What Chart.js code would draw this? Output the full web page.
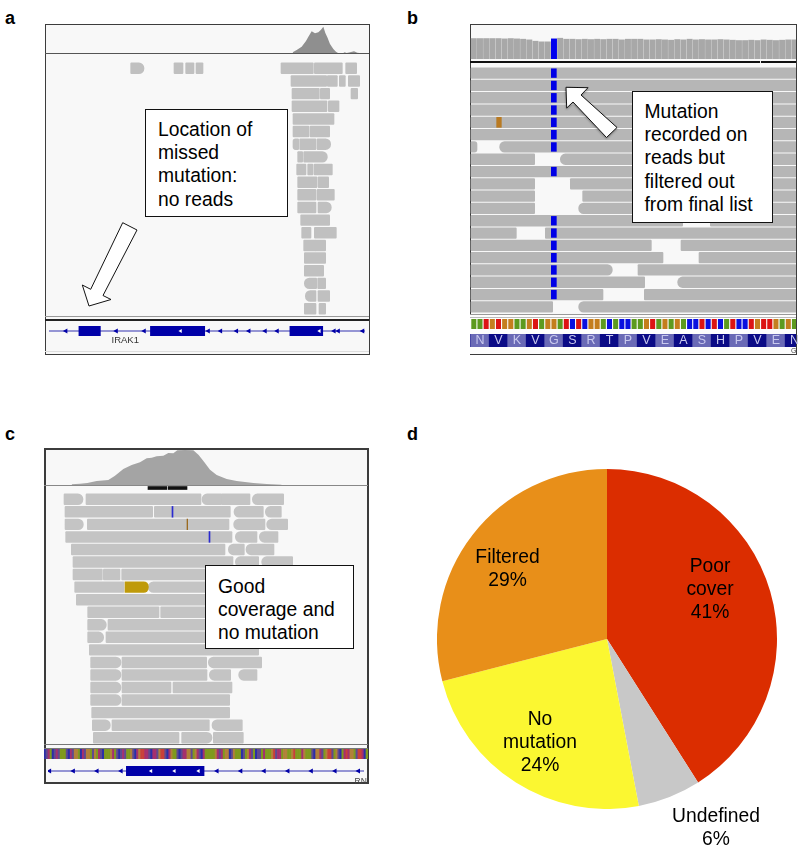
<!DOCTYPE html>
<html><head><meta charset="utf-8">
<script src="https://cdn.jsdelivr.net/npm/chart.js@4"></script>
<style>
html,body{margin:0;padding:0;background:#fff}
#page{position:relative;width:800px;height:850px;overflow:hidden;font-family:"Liberation Sans",Arial,sans-serif;color:#000}
canvas{position:absolute;display:block}
.frame{position:absolute;box-sizing:border-box;border:1.5px solid #3c3c3c;background:#f8f8f8;overflow:hidden}
.rule{position:absolute}
.box{position:absolute;box-sizing:border-box;background:#fff;border:1.2px solid #111;font-size:19.3px;line-height:23.2px;z-index:5;white-space:pre}
.lab{position:absolute;font-size:19.3px;line-height:23px;text-align:center;white-space:pre;z-index:5;transform:translateX(-50%)}
.let{position:absolute;font-weight:bold;font-size:18px;line-height:20px;z-index:5}
.small{position:absolute;white-space:pre;z-index:5}
.aa{position:absolute;font-size:12.5px;line-height:13px;color:#c9c9ee;transform:translateX(-50%);z-index:5}
svg{position:absolute;left:0;top:0;z-index:6}
</style></head><body><div id="page"></div>
<script>
// ---------- panel d : pie ----------
const pieLabels = ["Poor cover","Undefined","No mutation","Filtered"];
const pieValues = [41,6,24,29];
const pieColors = ["#DB2D00","#C8C8C8","#FBF731","#E88F19"];

// ---------- read tables: [row, start, end, shape] (shape p plain, f forward, r reverse) ----------
const aReads = [
[0,392,432,"f"],[0,522,549,"p"],[0,557,582,"p"],[0,588,609,"p"],[0,843,940,"p"],[0,943,1027,"p"],[0,1037,1070,"p"],
[1,873,980,"p"],[1,982,1012,"p"],[1,1018,1036,"p"],[1,1045,1079,"p"],
[2,876,958,"p"],[2,961,989,"p"],[2,1053,1073,"p"],
[3,876,981,"p"],[3,985,1017,"p"],
[4,879,1002,"p"],
[5,879,927,"p"],[5,930,989,"p"],
[6,879,896,"r"],[6,899,948,"p"],[6,951,992,"f"],
[7,893,908,"p"],[7,911,982,"f"],
[8,890,918,"p"],[8,923,939,"p"],[8,942,997,"p"],
[9,893,951,"p"],[9,954,986,"p"],
[10,893,948,"p"],[10,951,1003,"p"],
[11,893,948,"p"],[11,954,994,"f"],
[12,902,989,"p"],
[13,905,933,"p"],[13,943,1009,"p"],
[14,911,948,"p"],[14,945,977,"p"],
[15,913,977,"p"],
[16,913,971,"p"],
[17,913,950,"r"],[17,953,977,"p"],
[18,916,948,"r"],[18,954,989,"p"],
[19,913,948,"p"],[19,957,977,"p"]];
const bReads = [
[0,212,1187,"p"],[1,212,1187,"p"],[2,212,1187,"p"],[3,212,1187,"p"],[4,212,1187,"p"],[5,212,1187,"p"],
[6,212,230,"f"],[6,298,1187,"r"],
[7,212,403,"p"],[7,480,1187,"r"],
[8,212,1187,"p"],
[9,212,403,"p"],[9,510,1187,"p"],
[10,212,403,"p"],[10,547,1187,"p"],
[11,212,403,"p"],[11,535,1187,"r"],
[12,212,847,"p"],[12,930,1187,"p"],
[13,212,348,"p"],[13,435,1187,"p"],
[14,212,753,"p"],[14,842,1187,"p"],
[15,212,788,"p"],[15,896,1187,"p"],
[16,212,636,"f"],[16,713,1187,"p"],
[17,212,733,"p"],[17,832,1187,"r"],
[18,212,608,"p"],[18,732,1187,"p"],
[19,212,457,"p"],[19,535,1187,"r"]];
const cReads = [
[0,192,249,"f"],[0,258,603,"p"],[0,606,665,"r"],[0,665,750,"p"],[0,757,851,"r"],
[1,195,458,"p"],[1,463,691,"p"],[1,702,790,"r"],[1,796,844,"r"],
[2,195,250,"f"],[2,262,687,"p"],[2,701,795,"r"],[2,800,863,"r"],
[3,197,696,"p"],[3,706,771,"r"],[3,778,834,"r"],
[4,214,675,"p"],[4,685,733,"r"],[4,738,822,"r"],
[5,219,699,"p"],[5,706,776,"r"],[5,785,878,"r"],
[6,219,307,"p"],[6,310,360,"p"],[6,365,640,"p"],
[7,224,372,"p"],[7,445,640,"r"],
[8,229,640,"p"],
[9,263,477,"p"],[9,482,640,"p"],
[10,263,319,"f"],[10,324,640,"p"],
[11,263,311,"f"],[11,318,640,"p"],
[12,268,776,"p"],
[13,272,363,"f"],[13,366,620,"p"],[13,625,785,"r"],
[14,272,363,"f"],[14,366,621,"p"],[14,628,692,"r"],[14,716,771,"r"],
[15,272,363,"f"],[15,366,513,"p"],[15,519,696,"p"],
[16,272,363,"f"],[16,366,689,"p"],
[17,275,689,"p"],
[18,277,331,"f"],[18,336,628,"p"],[18,636,727,"r"],
[19,280,537,"p"],[19,545,636,"f"],[19,640,730,"p"]];

// mismatches: [row, start, end]
const bOrangeMismatch = [[4,289,303]];
const bBlueMismatchRows = [0,1,2,3,4,5,6,8,12,13,14,15,16,17,18];
const cGoldRead = [[7,375,445]];
const cBlueMismatch = [[1,516,519],[3,627,630]];
const cBrownMismatch = [[2,561,563]];
const cBlackMarks = [[444,500],[504,561]];

// ---------- coverage: [position, depth] ----------
const aCoverage = [[878,2],[890,9],[905,19],[918,36],[926,50],[935,65],[945,59],[955,62],[963,70],[970,79],[976,60],[982,47],[990,27],[1000,12],[1008,4],[1014,0],[1030,0],[1034,2],[1040,0],[1050,2],[1062,5],[1072,1],[1078,0]];
const bCoverage = [62,62,62,62,62,61,62,61,60,58,54,52,52,61,63,60,60,59,60,59,60,59,60,60,58,60,60,60,58,58,59,58,57,59,58,60,58,59,58,58,59,58,57,56,56,57,56,58,57,56,57,58,58];
const cCoverage = [[215,2],[240,4],[262,6],[290,12],[325,15],[345,28],[370,48],[395,60],[420,68],[440,80],[455,82],[470,86],[490,88],[505,96],[520,95],[532,104],[555,105],[580,104],[596,90],[612,70],[630,46],[650,30],[680,18],[710,12],[760,6],[800,3],[845,1]];

// ---------- panel b sequence ----------
const bBases = "AATGTGGAAGTAGGATCTCGGACACCAAGTAGAGACCTCTCATCCTGTTGAGAA".split("");
const bAminoLetters = ["","N","V","K","V","G","S","R","T","P","V","E","A","S","H","P","V","E","N"];
const bAminoPositions = [-2,1,4,7,10,13,16,19,22,25,28,31,34,37,40,43,46,49,52];

// ---------- panel c blended base strip (two halves) ----------
const cBasesLeft = "bvmgbvmvgggvbmvoogbmvoogvogmvbgggomgvbvmvggovbmorrmmvbmmvorrvbmoggvbvmmoovgomvbm".split("");
const cBasesRight = "gggggomvmgoobvogggbvgomvgbvvgmgggorvmmgooggorgggmogggvboomvgorrvgovbgmrmoogvrrmbg".split("");

// ---------- genes ----------
const aExons = [[227,293],[447,614],[876,977]];
const aIntronMarks = [187,342,428,625,663,712,750,800,837,1012,1025,1100];
const aExonMarks = [540,967];
const cExons = [[373,612]];
const cIntronMarks = [137,210,283,357,652,725,797,870,942,1015,1087];
const cExonMarks = [449,521,595];

const page = document.getElementById("page");
const NAVY = "#0000a8";
function el(cls, style, text){
  const d = document.createElement("div"); d.className = cls;
  Object.assign(d.style, style); if(text!==undefined) d.textContent = text;
  page.appendChild(d); return d;
}
function rule(l,t,w,h,c){ el("rule",{left:l+"px",top:t+"px",width:w+"px",height:h+"px",background:c,zIndex:3}); }
function makeChart(l,t,w,h,cfg,z){
  const c = document.createElement("canvas");
  c.width=w; c.height=h;
  c.style.left=l+"px"; c.style.top=t+"px"; c.style.width=w+"px"; c.style.height=h+"px"; c.style.zIndex=z||2;
  page.appendChild(c);
  cfg.options = Object.assign({responsive:false,animation:false,devicePixelRatio:1,maintainAspectRatio:false,
    layout:{padding:0},plugins:{legend:{display:false},tooltip:{enabled:false}}},cfg.options||{});
  return new Chart(c,cfg);
}
const rowLabels = Array.from({length:20},(_,i)=>"r"+i);
function readDataset(list, color, thick, radius){
  return {data:list.map(r=>({x:[r[1],r[2]],y:"r"+r[0]})),backgroundColor:color,barThickness:thick,grouped:false,
    borderSkipped:false,borderRadius:radius||0};
}
function readsChart(l,t,w,h,xmin,xmax,reads,color,thick,extra){
  const plain=reads.filter(r=>r[3]==="p"), fwd=reads.filter(r=>r[3]==="f"), rev=reads.filter(r=>r[3]==="r");
  const rad=thick/2;
  const ds=[...(extra||[]),
    readDataset(plain,color,thick,1),
    readDataset(fwd,color,thick,{topLeft:1,bottomLeft:1,topRight:rad,bottomRight:rad}),
    readDataset(rev,color,thick,{topLeft:rad,bottomLeft:rad,topRight:1,bottomRight:1})];
  ds.forEach((d,i)=>d.order=i);
  return makeChart(l,t,w,h,{type:"bar",data:{labels:rowLabels,datasets:ds},
    options:{indexAxis:"y",scales:{x:{type:"linear",display:false,min:xmin,max:xmax},y:{type:"category",display:false}}}});
}
function coverageChart(l,t,w,h,xmin,xmax,ymax,pts,color){
  return makeChart(l,t,w,h,{type:"scatter",data:{datasets:[{data:pts.map(p=>({x:p[0],y:p[1]})),showLine:true,
      fill:"origin",backgroundColor:color,borderColor:color,borderWidth:0,pointRadius:0,tension:0}]},
    options:{scales:{x:{type:"linear",display:false,min:xmin,max:xmax},y:{type:"linear",display:false,min:0,max:ymax}}}});
}
function geneChart(l,t,w,h,xmin,xmax,exons,intron,exonMarks,thick){
  const mark=(list,color,r,order)=>({type:"scatter",data:list.map(x=>({x,y:"g"})),pointStyle:"triangle",rotation:-90,
     pointRadius:r,backgroundColor:color,borderWidth:0,order,showLine:false});
  return makeChart(l,t,w,h,{type:"bar",data:{labels:["g"],datasets:[
      mark(exonMarks,"#ffffff",2.2,0),
      mark(intron,NAVY,3,1),
      {data:exons.map(e=>({x:e,y:"g"})),backgroundColor:NAVY,barThickness:thick,grouped:false,order:2},
      {type:"scatter",data:[{x:xmin,y:"g"},{x:xmax,y:"g"}],showLine:true,borderColor:"#3333b0",borderWidth:1,pointRadius:0,order:3}
    ]},
    options:{indexAxis:"y",scales:{x:{type:"linear",display:false,min:xmin,max:xmax},y:{type:"category",display:false}}}});
}

// ---------- panel a ----------
el("frame",{left:"44.5px",top:"23.5px",width:"325px",height:"331px"});
coverageChart(45,24,324,29,135,1107,87,aCoverage,"#8f8f8f");
rule(45,53,324,1,"#555");
readsChart(45,61.5,324,253,135,1107,aReads,"#c0c0c0",10.8);
rule(45,315.5,324,1,"#999");
rule(45,319,324,1.6,"#222");
rule(45,351,324,1,"#ddd");
geneChart(45,322,324,18,135,1107,aExons,aIntronMarks,aExonMarks,12.7);
el("small",{left:"111.5px",top:"334px",fontSize:"9.5px",lineHeight:"12px",color:"#333"},"IRAK1");

// ---------- panel b ----------
el("frame",{left:"469.5px",top:"23.5px",width:"327px",height:"331px"});
const bx={type:"linear",display:false,offset:false,min:-0.62,max:52.25};
makeChart(470,25,326,34,{type:"bar",data:{datasets:[{data:bCoverage.map((v,i)=>({x:i,y:v})),
   backgroundColor:bCoverage.map((v,i)=>i===13?"#0000ee":"#a8a8a8"),barThickness:5.3}]},
   options:{scales:{x:bx,y:{type:"linear",display:false,min:0,max:103}}}});
rule(470,61,326,2,"#111");
rule(760,61,1,2,"#eee");
const blueRows=bBlueMismatchRows.map(r=>[r,453,468]);
readsChart(470,66.85,326,246,209,1187,bReads,"#b6b6b6",10.6,[
  readDataset(blueRows,"#0000e6",8.7),
  readDataset(bOrangeMismatch,"#b97a22",10)]);
rule(470,314,326,40,"#fdfdfd");
rule(470,314.2,326,1,"#999");
rule(470,316.6,326,1,"#bbb");
const basePalette={A:"#5d9a1f",C:"#0a10e0",G:"#c47e1e",T:"#dc1414"};
makeChart(470,319,326,10,{type:"bar",data:{datasets:[{data:bBases.map((b,i)=>({x:i,y:1})),
   backgroundColor:bBases.map(b=>basePalette[b]),barThickness:4.4}]},
   options:{scales:{x:bx,y:{type:"linear",display:false,min:0,max:1}}}},4);
const aaChart=makeChart(470,334,326,13,{type:"bar",data:{datasets:[{data:bAminoPositions.map(p=>({x:p,y:1})),
   backgroundColor:bAminoPositions.map((p,i)=>i%2===0?"#0b0b86":"#6a6ab6"),barThickness:18.6}]},
   options:{scales:{x:bx,y:{type:"linear",display:false,min:0,max:1}}}},4);
bAminoLetters.forEach((s,i)=>{ if(!s) return;
  const px=470+aaChart.scales.x.getPixelForValue(bAminoPositions[i]);
  el("aa",{left:px+"px",top:"334px"},s);
});
el("small",{left:"791px",top:"347px",width:"5px",overflow:"hidden",fontSize:"7px",lineHeight:"8px",color:"#444"},"G");

// ---------- panel c ----------
el("frame",{left:"43.5px",top:"447.5px",width:"325px",height:"336px"}).style.borderWidth="2px";
coverageChart(44,449,324,36,132,1104,108,cCoverage,"#a4a4a4");
rule(44,485.4,324,1,"#888");
makeChart(44,486,324,4,{type:"bar",data:{labels:["m"],datasets:[{data:cBlackMarks.map(m=>({x:m,y:"m"})),
   backgroundColor:"#111",barThickness:3,grouped:false}]},
   options:{indexAxis:"y",scales:{x:{type:"linear",display:false,min:132,max:1104},y:{type:"category",display:false}}}});
readsChart(44,493,324,251,132,1104,cReads,"#c4c4c4",10.8,[
  readDataset(cBlueMismatch,"#2a2ad0",10.8),
  readDataset(cBrownMismatch,"#9a6a20",10.8),
  readDataset(cGoldRead.map(r=>[r[0],r[1],r[2]]),"#bf9a0a",10.8,{topLeft:0,bottomLeft:0,topRight:5,bottomRight:5})]);
rule(44,744.3,324,1,"#777");
rule(44,748.2,324,1,"#777");
const stripPalette={g:"#7f9a1e",o:"#b2803a",r:"#c8403a",m:"#a5306e",b:"#2a2fa8",v:"#5f4a90"};
const cBases=cBasesLeft.concat(cBasesRight);
makeChart(44,749,324,10,{type:"bar",data:{labels:cBases.map((b,i)=>i),datasets:[{data:cBases.map(()=>1),
   backgroundColor:cBases.map(b=>stripPalette[b]),barPercentage:1,categoryPercentage:1}]},
   options:{scales:{x:{display:false},y:{type:"linear",display:false,min:0,max:1}}}});
geneChart(44,762,324,18,132,1104,cExons,cIntronMarks,cExonMarks,12.7);
el("small",{left:"354.5px",top:"775.5px",width:"12.5px",overflow:"hidden",fontSize:"8.5px",lineHeight:"10px",color:"#444"},"RNF");

// ---------- panel d ----------
makeChart(437,468.7,340,340,{type:"pie",data:{labels:pieLabels,datasets:[{data:pieValues,backgroundColor:pieColors,borderWidth:0}]},
  options:{}});
el("lab",{left:"710px",top:"553.5px"},"Poor\ncover\n41%");
el("lab",{left:"507.5px",top:"544.5px"},"Filtered\n29%");
el("lab",{left:"540px",top:"707px"},"No\nmutation\n24%");
el("lab",{left:"716px",top:"803.5px"},"Undefined\n6%");

// ---------- text boxes ----------
el("box",{left:"145px",top:"109px",width:"143px",height:"108px",padding:"8px 0 0 12px"},"Location of\nmissed\nmutation:\nno reads");
el("box",{left:"631.5px",top:"91px",width:"141.5px",height:"132px",padding:"8px 0 0 12px"},"Mutation\nrecorded on\nreads but\nfiltered out\nfrom final list");
el("box",{left:"205px",top:"564.5px",width:"149px",height:"84.5px",padding:"9px 0 0 12px"},"Good\ncoverage and\nno mutation");

// panel letters
[["a",5,8],["b",407,8],["c",5,424],["d",407,424]].forEach(p=>el("let",{left:p[1]+"px",top:p[2]+"px"},p[0]));

// call-out arrows
page.insertAdjacentHTML("beforeend",`<svg width="800" height="850" viewBox="0 0 800 850">
<defs><filter id="s" x="-20%" y="-20%" width="140%" height="140%"><feDropShadow dx="0" dy="1" stdDeviation="1.2" flood-color="#000" flood-opacity=".35"/></filter></defs>
<polygon points="122.7,222.7 137,230 103,295.5 111,299.5 89,306 82.3,285 90.7,289.3" fill="#fff" stroke="#111" stroke-width="1"/>
<polygon points="566,87.3 588,87.7 581,95 617,127.5 606.5,137.5 573,102 566.7,108" fill="#fff" stroke="#111" stroke-width="1" filter="url(#s)"/>
</svg>`);
</script></body></html>
